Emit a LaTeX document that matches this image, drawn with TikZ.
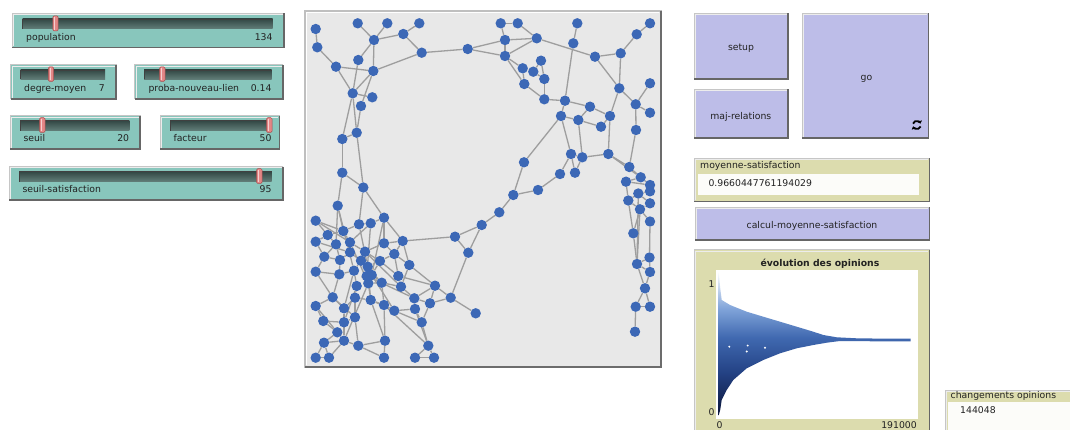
\documentclass[tikz,border=0pt]{standalone}
\usepackage{fontspec}
\setmainfont{DejaVu Sans}
\usetikzlibrary{arrows.meta}

\definecolor{slbg}{HTML}{88C6BC}
\definecolor{trackA}{HTML}{334845}
\definecolor{trackB}{HTML}{627F7A}
\definecolor{knob}{HTML}{E38686}
\definecolor{knobD}{HTML}{A84E4E}
\definecolor{btnbg}{HTML}{BDBDE8}
\definecolor{monbg}{HTML}{DCDCAE}
\definecolor{viewbg}{HTML}{E8E8E8}
\definecolor{agent}{HTML}{3C68B6}
\definecolor{linkc}{HTML}{9E9E9E}
\definecolor{txt}{HTML}{222222}

% opinion colours, dark (0) to white (1); the path is mapped onto 25bp..75bp
\pgfdeclareverticalshading{opinion}{100bp}{%
  rgb(0bp)=(0.04,0.08,0.22); rgb(25bp)=(0.04,0.08,0.22);
  rgb(40bp)=(0.14,0.26,0.52); rgb(52bp)=(0.25,0.41,0.69);
  rgb(62bp)=(0.50,0.64,0.85); rgb(75bp)=(1,1,1); rgb(100bp)=(1,1,1)}

\pgfdeclarelayer{viewlayer}
\pgfdeclarelayer{links}
\pgfsetlayers{viewlayer,links,main}

% raised widget box: fill, x1, y1, x2, y2
\newcommand{\bevelbox}[5]{%
  \fill[#1] (#2,#3) rectangle (#4,#5);
  \draw[line width=1pt, gray!45] (#2,#3) rectangle (#4,#5);
  \draw[line width=0.8pt, white!85!gray] ({#2+1.2},{#5-1.2}) -- ({#2+1.2},{#3+1.2}) -- ({#4-1.2},{#3+1.2});
  \draw[line width=1.6pt, gray!80!black] (#4,#3) -- (#4,#5) -- (#2,#5);
}
% slider track with its knob: x1, y1, x2, y2, knob x
\newcommand{\slidetrack}[5]{%
  \shade[top color=trackA, bottom color=trackB] (#1,#2) rectangle (#3,#4);
  \draw[black!75, line width=0.7pt] (#1,#4) -- (#1,#2) -- (#3,#2);
  \draw[rounded corners=1.2pt, fill=knob, draw=knobD, line width=0.5pt]
    ({#5-2.7},{#2-3}) rectangle ({#5+2.7},{#4+1.8});
  \draw[white!60!knob, line width=0.9pt] ({#5-0.9},{#2-2}) -- ({#5-0.9},{#4+0.8});
}

\begin{document}
\begin{tikzpicture}[x=1pt,y=-1pt,
  lbl/.style={font=\fontsize{9.3}{11}\selectfont, inner sep=0pt, text=txt},
  lblb/.style={font=\fontsize{9.3}{11}\selectfont\bfseries, inner sep=0pt, text=txt},
  agt/.style={circle, fill=agent, minimum size=10.4pt, inner sep=0pt},
  lnk/.style={draw=linkc, line width=1.3pt}]
\useasboundingbox (0,0) rectangle (1070,430);

% ---------- network view frame and page background ----------
\begin{pgfonlayer}{viewlayer}
  \fill[white] (0,0) rectangle (1070,430);
  \fill[viewbg] (305,11) rectangle (661,367);
  \draw[line width=1.2pt, gray!50] (305,11) rectangle (661,367);
  \draw[line width=0.8pt, white] (306.8,365) -- (306.8,12.8) -- (659,12.8);
  \draw[line width=2.6pt, gray!85!black] (661,11) -- (661,367) -- (305,367);
\end{pgfonlayer}

% ---------- sliders ----------
\bevelbox{slbg}{12.3}{13.5}{284}{47.7}
\slidetrack{22.7}{19}{272.7}{29}{55.5}
\node[lbl, anchor=base west] (s1l) at (26,40.5) {population};
\node[lbl, anchor=base east] (s1v) at (272.7,40.5) {134};

\bevelbox{slbg}{10.7}{65}{116}{99}
\slidetrack{20.7}{70}{105}{79.5}{51}
\node[lbl, anchor=base west] (s2l) at (24,91.5) {degre-moyen};
\node[lbl, anchor=base east] (s2v) at (105,91.5) {7};

\bevelbox{slbg}{134.7}{65}{282.7}{99}
\slidetrack{144}{70}{271.7}{79.5}{162.3}
\node[lbl, anchor=base west] (s3l) at (148.3,91.5) {proba-nouveau-lien};
\node[lbl, anchor=base east] (s3v) at (271.7,91.5) {0.14};

\bevelbox{slbg}{10}{116}{140}{149.3}
\slidetrack{20.7}{120.7}{129.3}{130.7}{42.3}
\node[lbl, anchor=base west] (s4l) at (23.3,141.5) {seuil};
\node[lbl, anchor=base east] (s4v) at (129.3,141.5) {20};

\bevelbox{slbg}{160}{116}{279.3}{149.3}
\slidetrack{170.7}{120.7}{271.7}{130.7}{269.3}
\node[lbl, anchor=base west] (s5l) at (173.3,141.5) {facteur};
\node[lbl, anchor=base east] (s5v) at (271.7,141.5) {50};

\bevelbox{slbg}{9.3}{166.7}{282.7}{200}
\slidetrack{19.3}{171.7}{271.7}{181.7}{259.3}
\node[lbl, anchor=base west] (s6l) at (22.3,193) {seuil-satisfaction};
\node[lbl, anchor=base east] (s6v) at (271.7,193) {95};

% ---------- buttons ----------
\bevelbox{btnbg}{694}{13.3}{787.7}{79}
\node[lbl] (bsetup) at (741,48.3) {setup};
\bevelbox{btnbg}{694}{89.3}{787.7}{138.3}
\node[lbl] (bmaj) at (740.8,116.5) {maj-relations};
\bevelbox{btnbg}{802.3}{13.3}{928.3}{138.3}
\node[lbl] (bgo) at (866.5,79) {go};
% forever icon
\draw[line width=1.8pt, -{Triangle[length=2.6pt,width=4.6pt]}]
  (913,123.6) arc[start angle=200, end angle=340, radius=4];
\draw[line width=1.8pt, -{Triangle[length=2.6pt,width=4.6pt]}]
  (920.6,126.4) arc[start angle=20, end angle=160, radius=4];

% ---------- monitor ----------
\bevelbox{monbg}{694}{158.3}{929.3}{201.7}
\node[lbl, anchor=base west] (mlab) at (700,168.5) {moyenne-satisfaction};
\fill[white!92!monbg] (698.3,174) rectangle (919.3,195.5);
\node[lbl, anchor=base west] (mval) at (708.3,186.5) {0.9660447761194029};

\bevelbox{btnbg}{695}{207.3}{929.3}{240}
\node[lbl] (bcalc) at (812,225.5) {calcul-moyenne-satisfaction};

% ---------- plot ----------
\bevelbox{monbg}{694}{250}{929.3}{450}
\fill[white] (716,270) rectangle (918,419);
\node[lblb] (ptitle) at (820,263.5) {évolution des opinions};
\node[lbl] (ymax) at (711.5,284) {1};
\node[lbl] (ymin) at (711.5,412.5) {0};
\node[lbl, anchor=north] (xmin) at (719.5,421) {0};
\node[lbl, anchor=north east] (xmax) at (917,421) {191000};
\shade[shading=opinion]
  (718.6,271.5) -- (720.2,288) -- (721.7,300) -- (730,305) -- (746.7,311.7)
  -- (763.3,316.7) -- (780,321.7) -- (796.7,326.7) -- (813.3,331.7)
  -- (823.3,335) -- (836.7,337.3) -- (856.7,338.3) -- (880,338.6)
  -- (910.5,338.6) -- (910.5,341.4) -- (856.7,341.2) -- (840,341)
  -- (826.7,342.7) -- (813.3,345) -- (796.7,348.3) -- (780,353.3)
  -- (763.3,360) -- (746.7,368.3) -- (733.3,380) -- (726.7,390)
  -- (721.7,400) -- (720.2,410) -- (718.6,415.5) -- cycle;
\foreach \px/\py in {729.3/346.7, 747.7/345.6, 746.7/351.5, 765/347.7}
  \fill[white] (\px,\py) circle (1.1);

% ---------- second monitor ----------
\bevelbox{monbg}{945}{390}{1078}{450}
\node[lbl, anchor=base west] (clab) at (950.5,398.5) {changements opinions};
\fill[white!92!monbg] (948,401.5) rectangle (1078,440);
\node[lbl, anchor=base west] (cval) at (960,413.5) {144048};

% ---------- network ----------
\foreach \n/\px/\py in {
  a1/315.7/29, a2/317.3/47.3, a3/357.7/23.3, a4/387.3/23.3, a5/419.3/23.3,
  a6/403.3/34, a7/374/40, a8/421.7/52.7, a9/467.7/49, a10/358.3/60,
  a11/336/66.7, a12/373.3/71, a13/352.7/93.3, a14/372.3/97.3, a15/361/106,
  a16/356.7/132.7, a17/342.3/139, a18/342.3/172.7, a19/363.3/187.5,
  b1/500.7/23.3, b2/517.7/23.3, b3/577.3/23.3, b4/650/23.3, b5/505/40,
  b6/536.7/38.3, b7/573.3/43.3, b8/636.7/34.3, b9/505/56, b10/595/56.7,
  b11/620.7/53.3, b12/541/60.7, b13/522.7/68.3, b14/533.3/71.7, b15/544.3/79,
  b16/524.3/84, b17/619.3/88.3, b18/650/83.3, b19/544.3/99.3, b20/565/100.7,
  b21/590/106.7, b22/635.7/104.3, b23/561/116, b24/578.3/120, b25/610/116,
  b26/650/112.7, b27/601/126.7, b28/636/130, b29/524/162.3, b30/571/154,
  b31/582.3/157.3, b32/608.3/154, b33/560/174, b34/575/172.7, b35/629.3/167,
  b36/640.7/177.3, b37/626/181.7, b38/650/185, b39/538/190,
  d1/513.3/195, d3/499.3/212.3, d5/628.3/200.5, d6/638.3/193.5, d7/650/191.3,
  d8/650/203.3, d9/640/209.3, d10/650/221.5, d11/633.3/233.3, d12/637/264,
  d13/649.5/257.5, d14/650/272, d15/645/288.3, d16/635.7/306.7, d17/650/306.7,
  d18/635/331.7,
  c2/337.7/205.7, c3/315.7/220.7, c4/384/217.7, c5/359/224.3, c6/370.7/223.3,
  c7/327.7/235, c8/343.3/231, c9/315.7/241.7, c10/336/244.3, c11/350/242.3,
  c12/384/243.3, c13/402.7/241, c14/455/236.7, c15/481.7/225, c16/324.3/256.7,
  c17/340/260, c18/350/252.3, c19/365/251.7, c20/361/260.7, c21/380/261,
  c22/394.3/254, c23/468.3/252.7, c24/315.7/271.7, c25/339.3/274.3,
  c26/354/270.7, c27/367.7/266.7, c28/366.7/276, c29/371.7/275,
  c30/409.3/265, c31/398.3/276, c32/356.7/286, c33/368.3/283.3,
  c34/381.7/282.7, c35/401/286.7, c36/435/285.7, c37/450.7/297.7,
  c38/332.7/297.3, c39/355/297.7, c40/370.7/300, c41/414.3/298.3,
  c42/430/303.3, c43/315.7/306, c44/344/308.3, c45/384/305, c46/394.3/310.7,
  c47/415/309, c48/475.7/313.3, c49/323.3/321, c50/344/322.3, c51/355/317.3,
  c52/421.7/322.3, c53/337.3/332.3, c54/324/342.7, c55/344/340.7,
  c56/358.3/345.7, c57/385/340.7, c58/428.3/345.7, c59/315.7/357.7,
  c60/329/357.7, c61/384/357.7, c62/415/357.7, c63/434/357.7}
  \node[agt] (\n) at (\px,\py) {};

\begin{pgfonlayer}{links}
\foreach \u/\v in {
  a1/a2, a2/a11, a11/a12, a11/a13, a3/a7, a4/a7, a7/a6, a5/a6, a6/a8,
  a8/a12, a8/a9, a7/a12, a7/a10, a10/a13, a12/a13, a12/a15, a13/a14,
  a13/a17, a13/a16, a15/a16, a16/a17, a16/a19, a17/a18, a18/a19,
  a9/b5, a9/b9, a18/c2, a19/c5, a19/c4,
  b1/b2, b1/b5, b2/b6, b5/b6, b5/b9, b6/b9, b6/b10, b3/b7, b7/b20,
  b10/b11, b11/b8, b8/b4, b11/b17, b10/b17, b17/b22, b18/b22, b22/b26,
  b22/b28, b17/b25, b25/b21, b21/b20, b25/b27, b27/b24, b24/b23, b23/b20,
  b20/b19, b19/b16, b9/b16, b9/b13, b13/b14, b14/b12, b12/b15, b14/b15,
  b13/b16, b15/b19, b25/b32, b28/b35, b32/b35, b32/b31, b31/b30, b30/b33,
  b31/b34, b30/b34, b23/b30, b24/b31, b23/b29, b33/b39, b32/b36, b35/b36,
  b36/b38, b36/b37, b37/b38, b29/d1, b39/d1, b37/d5, b38/d7, b21/b24,
  d1/d3, d3/c15, d5/d6, d6/d7, d6/d8, d5/d9, d8/d9, d9/d10, d9/d11,
  d6/d12, d11/d12, d9/d12, d12/d13, d12/d14, d13/d14, d14/d15, d12/d15,
  d15/d16, d15/d17, d16/d17, d16/d18, d10/d13, d5/d11,
  c15/c14, c15/c23, c14/c23, c14/c13, c23/c37, c37/c48, c37/c36, c37/c42,
  c2/c8, c2/c10, c3/c7, c7/c8, c7/c9, c7/c10, c8/c11, c8/c5, c5/c6,
  c6/c4, c4/c12, c4/c13, c12/c13, c6/c11, c11/c19, c12/c19, c10/c16,
  c10/c17, c9/c16, c16/c24, c16/c17, c17/c18, c11/c18, c18/c20, c19/c20,
  c19/c21, c20/c27, c21/c22, c12/c22, c22/c30, c27/c28, c28/c29, c29/c21,
  c13/c30, c30/c35, c31/c35, c22/c31, c29/c34, c33/c34, c28/c33, c26/c20,
  c26/c32, c25/c26, c17/c25, c24/c25, c25/c38, c32/c39, c33/c40, c34/c45,
  c35/c41, c36/c41, c36/c42, c41/c42, c41/c47, c42/c52, c47/c52, c52/c58,
  c58/c62, c58/c63, c62/c63, c45/c46, c46/c47, c45/c57, c40/c57, c39/c44,
  c38/c43, c38/c44, c43/c49, c44/c50, c49/c50, c50/c51, c49/c53, c53/c55,
  c50/c55, c54/c59, c54/c55, c53/c54, c59/c60, c54/c60, c55/c56, c56/c57,
  c57/c61, c40/c45, c39/c40, c2/c26, c4/c29, c11/c33, c20/c34, c28/c41,
  c29/c46, c19/c35, c27/c40, c32/c50, c33/c55, c26/c44, c38/c51, c3/c11,
  c9/c18, c5/c27, c6/c28, c21/c31, c34/c35, c46/c52, c31/c36, c60/c55,
  c3/c8, c24/c38, c43/c53, c51/c56, c39/c51, c44/c55, c45/c58, c40/c46,
  c8/c18, c27/c21, c30/c36, c13/c22, c56/c61, c47/c58}
  \draw[lnk] (\u) -- (\v);
\end{pgfonlayer}
\end{tikzpicture}
\end{document}
